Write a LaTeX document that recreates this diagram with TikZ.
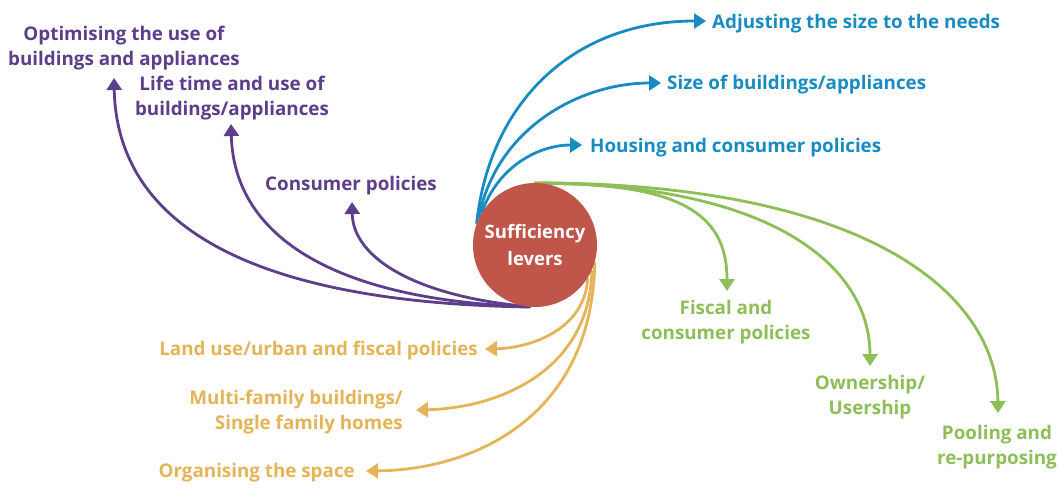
\documentclass[tikz,border=0pt]{standalone}
\usepackage{fontspec}
\setmainfont{Open Sans}
\usetikzlibrary{arrows.meta,backgrounds}
\definecolor{cblue}{RGB}{24,140,192}
\definecolor{cpurple}{RGB}{92,62,138}
\definecolor{cyellow}{RGB}{227,180,88}
\definecolor{cgreen}{RGB}{141,190,88}
\definecolor{cred}{RGB}{192,86,74}
\begin{document}
\begin{tikzpicture}[x=1pt,y=-1pt,
  lbl/.style={font=\bfseries\fontsize{18.8}{25}\selectfont, inner sep=0pt, align=center},
  arr/.style={line width=2.8pt, -{Triangle[width=15pt,length=12pt]}},
  hub/.style={circle, fill=cred, minimum size=124pt, inner sep=0pt, text=white, align=center,
    font=\bfseries\fontsize{18.5}{27}\selectfont}
]
\useasboundingbox (0,0) rectangle (1057,495);
\node[hub] (c) at (535,245) {Sufficiency\\levers};

% labels
\node[lbl, text=cblue, anchor=west] (b1) at (712,24) {Adjusting the size to the needs};
\node[lbl, text=cblue, anchor=west] (b2) at (667,85) {Size of buildings/appliances};
\node[lbl, text=cblue, anchor=west] (b3) at (590,148) {Housing and consumer policies};
\node[lbl, text=cpurple] (p1) at (124,48) {Optimising the use of\\buildings and appliances};
\node[lbl, text=cpurple] (p2) at (232,98) {Life time and use of\\buildings/appliances};
\node[lbl, text=cpurple] (p3) at (351,186) {Consumer policies};
\node[lbl, text=cyellow, anchor=east] (y1) at (478,351) {Land use/urban and fiscal policies};
\node[lbl, text=cyellow, anchor=east, align=right] (y2) at (403,412) {Multi-family buildings/\\Single family homes};
\node[lbl, text=cyellow, anchor=east] (y3) at (355,473) {Organising the space};
\node[lbl, text=cgreen] (g1) at (726,322) {Fiscal and\\consumer policies};
\node[lbl, text=cgreen] (g2) at (870,397) {Ownership/\\Usership};
\node[lbl, text=cgreen] (g3) at (997,447) {Pooling and\\re-purposing};

% arrow tips
\coordinate (tb1) at (706,21);
\coordinate (tb2) at (661,83);
\coordinate (tb3) at (582,145);
\coordinate (tp1) at (114,78);
\coordinate (tp2) at (231,124);
\coordinate (tp3) at (352,202);
\coordinate (ty1) at (485,349);
\coordinate (ty2) at (416,410);
\coordinate (ty3) at (366,471);
\coordinate (tg1) at (727,291);
\coordinate (tg2) at (870,366);
\coordinate (tg3) at (998,413);

\begin{pgfonlayer}{background}
\draw[arr, cblue] (c.160) .. controls (490,100) and (575,21) .. (tb1);
\draw[arr, cblue] (c.155) .. controls (495,130) and (578,83) .. (tb2);
\draw[arr, cblue] (c.149) .. controls (497,168) and (537,145) .. (tb3);
\draw[arr, cpurple] (c.266) .. controls (260,303) and (117,230) .. (tp1);
\draw[arr, cpurple] (c.263) .. controls (340,300) and (234,240) .. (tp2);
\draw[arr, cpurple] (c.259) .. controls (420,296) and (353,260) .. (tp3);
\draw[arr, cyellow] (c.-32) .. controls (585,330) and (530,348) .. (ty1);
\draw[arr, cyellow] (c.-24) .. controls (590,370) and (500,408) .. (ty2);
\draw[arr, cyellow] (c.-16) .. controls (592,420) and (470,470) .. (ty3);
\draw[arr, cgreen] (c.80) .. controls (690,183) and (727,220) .. (tg1);
\draw[arr, cgreen] (c.86) .. controls (780,185) and (870,270) .. (tg2);
\draw[arr, cgreen] (c.91) .. controls (870,183) and (997,295) .. (tg3);
\end{pgfonlayer}
\end{tikzpicture}
\end{document}
